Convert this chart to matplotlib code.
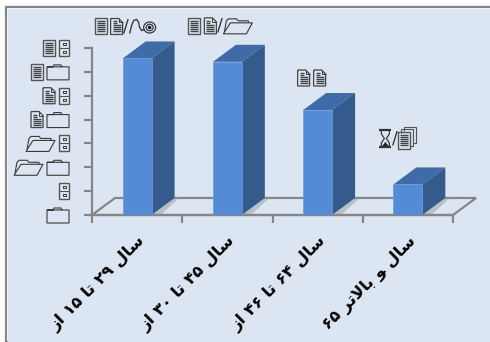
import matplotlib
matplotlib.use("Agg")
import matplotlib.pyplot as plt
from matplotlib.patches import Rectangle, Polygon, Ellipse

# labels are written in visual order with presentation forms, matplotlib does no arabic shaping
categories = [
    "\ufeaf\ufe8d \u06f1\u06f5 \ufe8e\ufe97 \u06f2\u06f9 \ufedd\ufe8e\ufeb3",
    "\ufeaf\ufe8d \u06f3\u06f0 \ufe8e\ufe97 \u06f4\u06f5 \ufedd\ufe8e\ufeb3",
    "\ufeaf\ufe8d \u06f4\u06f6 \ufe8e\ufe97 \u06f6\u06f4 \ufedd\ufe8e\ufeb3",
    "\u06f6\u06f5 \ufeae\ufe97\ufefb\ufe8e\ufe91 \ufeee \ufedd\ufe8e\ufeb3",
]
values = [32.8, 32.1, 22, 6.4]
y_ticks = [0, 5, 10, 15, 20, 25, 30, 35]

W, H = 490, 342
GRAY = "#868686"
FRONT = "#558ad6"
TOP = "#3f6ca6"
SIDE = "#345b8c"
INK = "#3a3a3a"

plt.rcParams["font.family"] = ["DejaVu Sans"]
fig = plt.figure(figsize=(W / 100, H / 100), dpi=100, facecolor="white")
fig.add_artist(Rectangle((6 / W, 0), 1, 1 - 7 / H, transform=fig.transFigure,
                         facecolor="white", edgecolor=GRAY, linewidth=1.6, zorder=-2))
fig.add_artist(Rectangle((8 / W, 0), 1, 1 - 9 / H, transform=fig.transFigure,
                         facecolor="#dce6f2", edgecolor="none", zorder=-1))

ax = fig.add_axes([92 / W, 1 - 215 / H, 361 / W, 167 / H])
ax.patch.set_visible(False)
ax.set_xlim(0, 4)
ax.set_ylim(0, 35)

# overlay in pixel coordinates for the icons
ov = fig.add_axes([0, 0, 1, 1])
ov.set_xlim(0, W)
ov.set_ylim(H, 0)
ov.axis("off")


def line(x, y, pts, lw=0.8, color=INK):
    ov.plot([x + p[0] for p in pts], [y + p[1] for p in pts], color=color, lw=lw,
            solid_joinstyle="miter", solid_capstyle="butt")


def page_lines(x, y, x0, x1, ys):
    for yy in ys:
        line(x, y, [(x0, yy), (x1, yy)], lw=1.0, color="#444444")


# the original font is Wingdings, no installed family has these symbols
def folder(x, y):
    line(x, y, [(0, 3), (22, 3), (22, 16), (0, 16), (0, 3), (6, 3), (7, 1), (14, 1), (15, 3)])


def open_folder(x, y):
    line(x, y, [(1, 14), (3, 3), (5, 1), (13, 1), (15, 3), (25, 3), (25, 5)])
    line(x, y, [(7, 5), (29, 5), (23, 16), (0, 16), (7, 5)])


def page_plain(x, y):
    line(x, y, [(0, 0), (12, 0), (12, 16), (0, 16), (0, 0)], color="#555555", lw=1.0)
    page_lines(x, y, 2, 10, [3, 5, 7, 9, 11, 13])


def page_corner(x, y):
    line(x, y, [(0, 0), (8, 0), (12, 4), (12, 16), (0, 16), (0, 0)], color="#444444", lw=0.9)
    line(x, y, [(8, 0), (8, 4), (12, 4)], lw=0.7)
    page_lines(x, y, 2, 6, [3, 5])
    page_lines(x, y, 2, 10, [7, 9, 11, 13])


def pages(x, y):
    line(x, y, [(6, 4), (6, 0), (18, 0), (18, 16), (15, 16)], color="#555555")
    line(x, y, [(3, 6), (3, 2), (15, 2), (15, 19), (12, 19)], color="#555555")
    line(x, y, [(0, 5), (12, 5), (12, 22), (0, 22), (0, 5)], color="#555555", lw=1.0)
    page_lines(x, y, 2, 10, [8, 10, 12, 14, 16, 18])


def cabinet(x, y):
    line(x, y, [(0, 0), (10, 0), (10, 16), (0, 16), (0, 0)], color="#555555", lw=1.0)
    line(x, y, [(0, 8), (10, 8)], color="#555555")
    line(x, y, [(3.5, 3), (6.5, 3), (6.5, 5), (3.5, 5), (3.5, 3)], lw=0.7)
    line(x, y, [(3.5, 11), (6.5, 11), (6.5, 13), (3.5, 13), (3.5, 11)], lw=0.7)


def hourglass(x, y):
    line(x, y, [(0, 1), (12, 1)], lw=1.6, color="#333333")
    line(x, y, [(0, 18), (12, 18)], lw=1.6, color="#333333")
    line(x, y, [(2, 1), (2, 5), (5, 9.5), (2, 14), (2, 18)], lw=0.9)
    line(x, y, [(10, 1), (10, 5), (7, 9.5), (10, 14), (10, 18)], lw=0.9)
    ov.fill([x + 2.5, x + 6, x + 9.5], [y + 17.5, y + 13, y + 17.5], color="#222222", lw=0)


def mouse(x, y):
    line(x, y, [(0, 15), (2, 7), (4, 2), (7, 1), (9, 4), (10, 9), (12, 12), (15, 11)], lw=1.0)
    ov.add_patch(Ellipse((x + 20, y + 9), 12, 11, fill=False, edgecolor=INK, lw=0.9))
    ov.add_patch(Ellipse((x + 20, y + 9), 7, 6.5, fill=False, edgecolor=INK, lw=0.9))
    ov.add_patch(Ellipse((x + 20, y + 9), 3.5, 3.5, facecolor="#111111", edgecolor="none"))


icon_draw = {"0": (folder, 22, 16), "1": (open_folder, 29, 16), "2": (page_corner, 12, 16),
             "3": (page_plain, 12, 16), "4": (pages, 18, 22), "5": (cabinet, 10, 16),
             "6": (hourglass, 12, 19), "8": (mouse, 26, 16)}


def draw_number(s, cy, right=None, center=None):
    # lays out one number icon by icon, the decimal sign stays real text
    parts = [(c, 5 if c == "/" else icon_draw[c][1]) for c in s]
    gaps = [1 if "/" in (a[0], b[0]) else 4 for a, b in zip(parts, parts[1:])] + [0]
    total = sum(p[1] for p in parts) + sum(gaps)
    x = right - total if right is not None else center - total / 2
    for (c, w), gap in zip(parts, gaps):
        if c == "/":
            ov.text(x + w / 2, cy, "/", ha="center", va="center", fontsize=12.5, color=INK)
        else:
            fn, _, h = icon_draw[c]
            fn(x, cy - h / 2)
        x += w + gap


dx, dy = 0.255, 3.57
width = 0.32

# floor
ax.add_patch(Polygon([(0, 0), (dx, dy), (4 + dx, dy), (4, 0)], closed=True, fill=False,
                     edgecolor=GRAY, linewidth=1.6, clip_on=False, zorder=1))

x_pos = [i + 0.5 for i in range(len(values))]
label_off = [(-12, 32), (-7, 36), (-6, 32), (-10, 46)]
for x, v, off in zip(x_pos, values, label_off):
    l, r = x - width / 2, x + width / 2
    # shadow on the floor
    ax.add_patch(Polygon([(r, 0), (r + dx, dy), (r + dx + 0.05, dy), (r + 0.1, 0)], closed=True,
                         facecolor="#9a9fa6", edgecolor="none", alpha=0.55, zorder=2))
    ax.bar(x, v, width, color=FRONT, edgecolor="#6c9be0", linewidth=0.5, zorder=4)
    ax.add_patch(Polygon([(l, v), (l + dx, v + dy), (r + dx, v + dy), (r, v)], closed=True,
                         facecolor=TOP, edgecolor="none", clip_on=False, zorder=3))
    ax.add_patch(Polygon([(r, 0), (r + dx, dy), (r + dx, v + dy), (r, v)], closed=True,
                         facecolor=SIDE, edgecolor="none", clip_on=False, zorder=3))
    px, py = ax.transData.transform((x, v))
    draw_number(f"{v:g}".replace(".", "/"), H - py - off[1], center=px + off[0])

for t in y_ticks:
    py = ax.transData.transform((0, t))[1]
    draw_number(str(t), H - py, right=69)

for s in ["top", "right"]:
    ax.spines[s].set_visible(False)
for s in ["left", "bottom"]:
    ax.spines[s].set_color(GRAY)
    ax.spines[s].set_linewidth(1.6)

ax.set_yticks(y_ticks, [])
ax.set_xticks(range(5), [])
ax.set_xticks(x_pos, categories, minor=True, rotation=45, ha="right", rotation_mode="anchor",
              fontsize=11.8, fontweight="bold", color="black")
ax.tick_params(axis="both", which="major", color=GRAY, width=1.6, length=6)
ax.tick_params(axis="x", which="minor", length=0, pad=13)

fig.savefig("out.png", dpi=100)
